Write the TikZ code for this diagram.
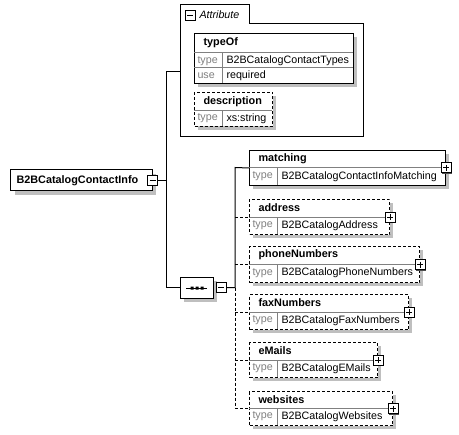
\documentclass[tikz,border=0pt]{standalone}
\usepackage{fontspec}
\setmainfont{Liberation Sans}
\usetikzlibrary{positioning,shapes.misc}

\begin{document}
\begin{tikzpicture}[x=1bp,y=-1bp,line width=1bp,
  box/.style={draw,fill=white,anchor=north west,inner sep=0pt},
  optbox/.style={box,dash pattern=on 3bp off 2bp},
  sep/.style={draw=black!50},
  dsh/.style={dash pattern=on 3bp off 2bp},
  nm/.style={anchor=west,inner sep=0pt,font=\bfseries\fontsize{10.85bp}{12bp}\selectfont},
  val/.style={anchor=west,inner sep=0pt,font=\fontsize{10.7bp}{12bp}\selectfont},
  lbl/.style={val,text=black!50},
  toggle/.style={draw,fill=white,minimum size=10bp,inner sep=0pt},
  minus/.style={toggle,path picture={
    \draw[line width=1bp] ([xshift=2bp]path picture bounding box.west) -- ([xshift=-2bp]path picture bounding box.east);}},
  plus/.style={toggle,path picture={
    \draw[line width=1bp] ([xshift=2bp]path picture bounding box.west) -- ([xshift=-2bp]path picture bounding box.east);
    \draw[line width=1bp] ([yshift=-2bp]path picture bounding box.north) -- ([yshift=2bp]path picture bounding box.south);}}]
  \useasboundingbox (0,0) rectangle (459,435);

  % shadows
  \fill[black!25] (15,174) rectangle +(141,21);
  \fill[black!25] (198,37) rectangle +(159,50);
  \fill[black!25] (198,96) rectangle +(78,34);
  \fill[black!25] (184,281) rectangle +(33,21);
  \fill[black!25] (253,154) rectangle +(196,35);
  \fill[black!25] (253,203) rectangle +(140,35);
  \fill[black!25] (253,250) rectangle +(170,36);
  \fill[black!25] (253,298) rectangle +(159,35);
  \fill[black!25] (253,346) rectangle +(128,35);
  \fill[black!25] (253,395) rectangle +(143,34);

  % root element
  \node[box,anchor=center,chamfered rectangle,chamfered rectangle corners={north west,south west},
    chamfered rectangle xsep=4bp,minimum width=141bp,minimum height=21bp] (root) at (81.5,180.5) {};
  \node[nm] (rootname) at (16,180.5) {B2BCatalogContactInfo};
  \node[minus] (root minus) at (root.east) {};

  % attributes
  \draw (180,5) -- (249,5) -- (249,24) -- (363,24) -- (363,137) -- (180,137) -- cycle;
  \node[minus] (attr minus) at (190,15.5) {};
  \node[val,font=\itshape\fontsize{10.7bp}{12bp}\selectfont] (attrlabel) at (199,15) {Attribute};
  \coordinate (attrs) at (180,72);

  \node[box,minimum width=159bp,minimum height=50bp] (typeOf) at (194,33) {};
  \draw[sep] (194,53) -- (353,53) (194,68) -- (353,68) (222,53) -- (222,83);
  \node[nm] at (203,43) {typeOf};
  \node[lbl] at (197,61) {type};
  \node[val] at (226,61) {B2BCatalogContactTypes};
  \node[lbl] at (197,76) {use};
  \node[val] at (226,76) {required};

  \node[optbox,minimum width=78bp,minimum height=34bp] (description) at (194,92) {};
  \draw[sep] (194,111) -- (272,111) (222,111) -- (222,126);
  \node[nm] at (203,101.5) {description};
  \node[lbl] at (197,118.5) {type};
  \node[val] at (226,118.5) {xs:string};

  % sequence
  \node[box,anchor=center,chamfered rectangle,chamfered rectangle xsep=5bp,
    minimum width=33bp,minimum height=21bp] (seq) at (196.5,287.5) {};
  \draw (186,288) -- (207,288);
  \fill (190.5,286.5) rectangle +(3,3) (195.5,286.5) rectangle +(3,3) (200.5,286.5) rectangle +(3,3);
  \node[minus,right=2bp of seq] (seq minus) {};

  % child elements
  \node[box,minimum width=196bp,minimum height=35bp] (matching) at (249,150) {};
  \draw[sep] (249,168) -- (445,168) (277,168) -- (277,185);
  \node[nm] at (258,159) {matching};
  \node[lbl] at (252,176.5) {type};
  \node[val] at (281,176.5) {B2BCatalogContactInfoMatching};
  \fill[black!70] (441.5,164) rectangle +(10,10);
  \node[plus] (matching plus) at (matching.east) {};

  \node[optbox,minimum width=140bp,minimum height=35bp] (address) at (249,199) {};
  \draw[sep] (249,217) -- (389,217) (277,217) -- (277,234);
  \node[nm] at (258,208) {address};
  \node[lbl] at (252,225.5) {type};
  \node[val] at (281,225.5) {B2BCatalogAddress};
  \fill[black!70] (385.5,213) rectangle +(10,10);
  \node[plus] (address plus) at (address.east) {};

  \node[optbox,minimum width=170bp,minimum height=36bp] (phoneNumbers) at (249,246) {};
  \draw[sep] (249,264) -- (419,264) (277,264) -- (277,282);
  \node[nm] at (258,255) {phoneNumbers};
  \node[lbl] at (252,273) {type};
  \node[val] at (281,273) {B2BCatalogPhoneNumbers};
  \fill[black!70] (415.5,260.5) rectangle +(10,10);
  \node[plus] (phoneNumbers plus) at (phoneNumbers.east) {};

  \node[optbox,minimum width=159bp,minimum height=35bp] (faxNumbers) at (249,294) {};
  \draw[sep] (249,312) -- (408,312) (277,312) -- (277,329);
  \node[nm] at (258,303) {faxNumbers};
  \node[lbl] at (252,320.5) {type};
  \node[val] at (281,320.5) {B2BCatalogFaxNumbers};
  \fill[black!70] (404.5,308) rectangle +(10,10);
  \node[plus] (faxNumbers plus) at (faxNumbers.east) {};

  \node[optbox,minimum width=128bp,minimum height=35bp] (eMails) at (249,342) {};
  \draw[sep] (249,360) -- (377,360) (277,360) -- (277,377);
  \node[nm] at (258,351) {eMails};
  \node[lbl] at (252,368.5) {type};
  \node[val] at (281,368.5) {B2BCatalogEMails};
  \fill[black!70] (373.5,356) rectangle +(10,10);
  \node[plus] (eMails plus) at (eMails.east) {};

  \node[optbox,minimum width=143bp,minimum height=34bp] (websites) at (249,391) {};
  \draw[sep] (249,408) -- (392,408) (277,408) -- (277,425);
  \node[nm] at (258,399.5) {websites};
  \node[lbl] at (252,416.5) {type};
  \node[val] at (281,416.5) {B2BCatalogWebsites};
  \fill[black!70] (388.5,404.5) rectangle +(10,10);
  \node[plus] (websites plus) at (websites.east) {};

  % connectors
  \coordinate (rootbus) at (166,180.5);
  \coordinate (attrjoin) at (166,72);
  \coordinate (seqjoin) at (166,287.5);
  \coordinate (bus) at (235,287.5);
  \coordinate (bustop) at (235,167.5);
  \coordinate (busend) at (235,408);
  \draw (root minus.east) -- (rootbus);
  \draw (attrs) -- (attrjoin) -- (seqjoin) -- (seq.west);
  \draw (seq minus.east) -- (bus) -- (bustop) -- (matching.west);
  \draw[dsh] (bus) -- (busend);
  \draw[dsh] (address.west -| bus) -- (address.west);
  \draw[dsh] (phoneNumbers.west -| bus) -- (phoneNumbers.west);
  \draw[dsh] (faxNumbers.west -| bus) -- (faxNumbers.west);
  \draw[dsh] (eMails.west -| bus) -- (eMails.west);
  \draw[dsh] (websites.west -| bus) -- (websites.west);
\end{tikzpicture}
\end{document}
